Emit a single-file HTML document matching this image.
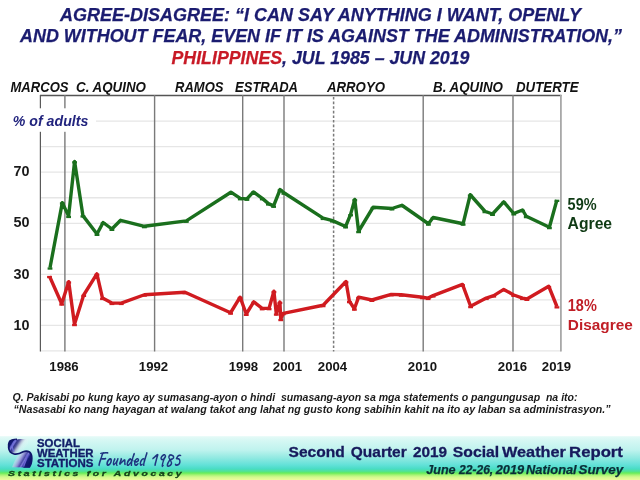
<!DOCTYPE html>
<html><head><meta charset="utf-8">
<style>
html,body{margin:0;padding:0;background:#fff;}
body{width:640px;height:480px;overflow:hidden;position:relative;}
svg{position:absolute;left:0;top:0;}
text{font-family:"Liberation Sans",Arial,sans-serif;}
</style></head>
<body>
<svg width="640" height="480" viewBox="0 0 640 480">
<defs>
<linearGradient id="band" gradientUnits="userSpaceOnUse" x1="0" y1="430" x2="0" y2="480">
<stop offset="0" stop-color="#ffffff"/>
<stop offset="0.11" stop-color="#ffffff"/>
<stop offset="0.135" stop-color="#e4faf7"/>
<stop offset="0.22" stop-color="#d4f7f3"/>
<stop offset="0.4" stop-color="#bff3ee"/>
<stop offset="0.56" stop-color="#90e9e1"/>
<stop offset="0.7" stop-color="#62e1d8"/>
<stop offset="0.78" stop-color="#48dcc4"/>
<stop offset="0.83" stop-color="#52e48e"/>
<stop offset="0.86" stop-color="#66ec5a"/>
<stop offset="0.9" stop-color="#a8f474"/>
<stop offset="0.94" stop-color="#d2f88e"/>
<stop offset="1" stop-color="#eefb9c"/>
</linearGradient>
</defs>
<!-- bottom band -->
<rect x="0" y="430" width="640" height="50" fill="url(#band)"/>

<!-- title -->
<g font-weight="bold" font-style="italic" fill="#1b1c70" font-size="17.5" stroke="#1b1c70" stroke-width="0.25">
<text x="60" y="20.6" textLength="521" lengthAdjust="spacingAndGlyphs">AGREE-DISAGREE: “I CAN SAY ANYTHING I WANT, OPENLY</text>
<text x="20" y="42" textLength="602" lengthAdjust="spacingAndGlyphs">AND WITHOUT FEAR, EVEN IF IT IS AGAINST THE ADMINISTRATION,”</text>
<text x="171.5" y="63.5" textLength="298" lengthAdjust="spacingAndGlyphs"><tspan fill="#c81a26" stroke="#c81a26">PHILIPPINES</tspan>, JUL 1985 – JUN 2019</text>
</g>

<!-- president labels -->
<g font-weight="bold" font-style="italic" fill="#111" font-size="14.4">
<text x="10.5" y="91.6" lengthAdjust="spacingAndGlyphs" textLength="58">MARCOS</text>
<text x="76" y="91.6" lengthAdjust="spacingAndGlyphs" textLength="70">C. AQUINO</text>
<text x="175" y="91.6" lengthAdjust="spacingAndGlyphs" textLength="48.5">RAMOS</text>
<text x="235" y="91.6" lengthAdjust="spacingAndGlyphs" textLength="63">ESTRADA</text>
<text x="327" y="91.6" lengthAdjust="spacingAndGlyphs" textLength="58">ARROYO</text>
<text x="433" y="91.6" lengthAdjust="spacingAndGlyphs" textLength="70">B. AQUINO</text>
<text x="516" y="91.6" lengthAdjust="spacingAndGlyphs" textLength="62.5">DUTERTE</text>
</g>

<!-- gridlines -->
<g stroke="#e6e6e6" stroke-width="1.3">
<line x1="40" y1="350.9" x2="561" y2="350.9"/>
<line x1="40" y1="325.4" x2="561" y2="325.4"/>
<line x1="40" y1="299.85" x2="561" y2="299.85"/>
<line x1="40" y1="274.3" x2="561" y2="274.3"/>
<line x1="40" y1="248.8" x2="561" y2="248.8"/>
<line x1="40" y1="223.3" x2="561" y2="223.3"/>
<line x1="40" y1="197.75" x2="561" y2="197.75"/>
<line x1="40" y1="172.2" x2="561" y2="172.2"/>
<line x1="40" y1="146.7" x2="561" y2="146.7"/>
<line x1="40" y1="121.2" x2="561" y2="121.2"/>
</g>

<!-- frame & president lines -->
<g stroke="#7a7a7a" stroke-width="1.4" fill="none">
<line x1="40" y1="95.5" x2="561.5" y2="95.5" stroke="#555"/>
<line x1="40.4" y1="95" x2="40.4" y2="351.5" stroke="#5a5a5a" stroke-width="1.2"/>
<line x1="64.9" y1="95" x2="64.9" y2="351.5"/>
<line x1="154.6" y1="95" x2="154.6" y2="351.5"/>
<line x1="242.7" y1="95" x2="242.7" y2="351.5"/>
<line x1="284" y1="95" x2="284" y2="351.5"/>
<line x1="423.2" y1="95" x2="423.2" y2="351.5"/>
<line x1="513" y1="95" x2="513" y2="351.5"/>
<line x1="560.9" y1="95" x2="560.9" y2="351.5" stroke="#a8a8a8" stroke-width="1.8"/>
<line x1="333.6" y1="97" x2="333.6" y2="351.5" stroke-dasharray="2.6 2" stroke-width="1.5"/>
</g>

<!-- % of adults label -->
<rect x="8" y="108.3" width="88" height="23.5" fill="#fff"/>
<text x="12.8" y="125.6" font-weight="bold" font-style="italic" font-size="14" fill="#22247e" textLength="75.5" lengthAdjust="spacingAndGlyphs">% of adults</text>

<!-- y axis labels -->
<g font-weight="bold" font-size="14.4" fill="#1a1a1a" text-anchor="middle">
<text x="21.5" y="175.6">70</text>
<text x="21.5" y="227.4">50</text>
<text x="21.5" y="278.9">30</text>
<text x="21.5" y="329.9">10</text>
</g>

<!-- x axis labels -->
<g font-weight="bold" font-size="13.2" fill="#151515" text-anchor="middle">
<text x="64" y="371.2">1986</text>
<text x="153.5" y="371.2">1992</text>
<text x="243.4" y="371.2">1998</text>
<text x="287.5" y="371.2">2001</text>
<text x="332.5" y="371.2">2004</text>
<text x="422.5" y="371.2">2010</text>
<text x="512.5" y="371.2">2016</text>
<text x="556.5" y="371.2">2019</text>
</g>

<!-- data -->
<polyline fill="none" stroke="#1a6f1d" stroke-width="3.4" stroke-linejoin="round"
points="50,267.7 62.3,202.6 68.6,216.1 74.6,161.5 82.9,215.6 97,234 103.1,222.5 111.9,229 120.6,220.3 144.4,226.3 186.3,220.9 230.9,192.2 240.3,198.4 246.9,198.9 253.4,191.9 262.3,198.4 268.4,203.6 273.6,205.9 280.1,189.5 283.9,192.8 323.1,218.1 332.5,220.6 345.6,226.5 350.6,214.4 354.75,199.4 358.6,231.25 373.1,207.25 391.9,208.5 401.9,205.25 428.4,223.75 433.1,217.5 463.1,223.75 470.25,194.75 484.9,211.25 492.5,214 503.75,201.9 513.75,213.5 522.5,210 526.25,216.25 549.4,227.25 556.9,200"/>
<polyline fill="none" stroke="#d01b20" stroke-width="3.4" stroke-linejoin="round"
points="49.5,276.2 61.7,303.7 68.7,281.7 74.5,324.2 83.7,295 96.9,273.9 102.5,298.1 111.9,303.1 121.25,303.1 144.4,294.75 185,292.25 230.6,312.75 240.1,297.2 246.25,314 253.75,301.9 262.2,308.4 269.1,308.3 273.9,291.25 276.3,313.75 279.9,302.1 280.75,319.2 283.25,313.3 323.1,305.25 346,281.5 349.4,301.25 354.4,308.75 358.6,297.1 371.9,300 391.25,294.4 401.25,294.75 422.5,297.25 428.1,298.1 433.1,295.6 462.5,284.4 470.6,306.25 486.25,298.1 493.75,295.6 503.75,289.4 513.75,295 522.5,298.1 526.9,299 548.75,286.25 556.9,306.5"/>

<!-- markers -->
<g fill="#1a6f1d"><rect x="47.60" y="267.40" width="4.8" height="2.3"/><rect x="59.90" y="202.30" width="4.8" height="2.3"/><rect x="66.20" y="215.80" width="4.8" height="2.3"/><rect x="72.20" y="161.20" width="4.8" height="2.3"/><rect x="80.50" y="215.30" width="4.8" height="2.3"/><rect x="94.60" y="233.70" width="4.8" height="2.3"/><rect x="100.70" y="222.20" width="4.8" height="2.3"/><rect x="109.50" y="228.70" width="4.8" height="2.3"/><rect x="118.20" y="220.00" width="4.8" height="2.3"/><rect x="142.00" y="226.00" width="4.8" height="2.3"/><rect x="183.90" y="220.60" width="4.8" height="2.3"/><rect x="228.50" y="191.90" width="4.8" height="2.3"/><rect x="237.90" y="198.10" width="4.8" height="2.3"/><rect x="244.50" y="198.60" width="4.8" height="2.3"/><rect x="251.00" y="191.60" width="4.8" height="2.3"/><rect x="259.90" y="198.10" width="4.8" height="2.3"/><rect x="266.00" y="203.30" width="4.8" height="2.3"/><rect x="271.20" y="205.60" width="4.8" height="2.3"/><rect x="277.70" y="189.20" width="4.8" height="2.3"/><rect x="281.50" y="192.50" width="4.8" height="2.3"/><rect x="320.70" y="217.80" width="4.8" height="2.3"/><rect x="330.10" y="220.30" width="4.8" height="2.3"/><rect x="343.20" y="226.20" width="4.8" height="2.3"/><rect x="348.20" y="214.10" width="4.8" height="2.3"/><rect x="352.35" y="199.10" width="4.8" height="2.3"/><rect x="356.20" y="230.95" width="4.8" height="2.3"/><rect x="370.70" y="206.95" width="4.8" height="2.3"/><rect x="389.50" y="208.20" width="4.8" height="2.3"/><rect x="399.50" y="204.95" width="4.8" height="2.3"/><rect x="426.00" y="223.45" width="4.8" height="2.3"/><rect x="430.70" y="217.20" width="4.8" height="2.3"/><rect x="460.70" y="223.45" width="4.8" height="2.3"/><rect x="467.85" y="194.45" width="4.8" height="2.3"/><rect x="482.50" y="210.95" width="4.8" height="2.3"/><rect x="490.10" y="213.70" width="4.8" height="2.3"/><rect x="501.35" y="201.60" width="4.8" height="2.3"/><rect x="511.35" y="213.20" width="4.8" height="2.3"/><rect x="520.10" y="209.70" width="4.8" height="2.3"/><rect x="523.85" y="215.95" width="4.8" height="2.3"/><rect x="547.00" y="226.95" width="4.8" height="2.3"/><rect x="554.50" y="199.70" width="4.8" height="2.3"/></g>
<g fill="#d01b20"><rect x="47.10" y="275.90" width="4.8" height="2.3"/><rect x="59.30" y="303.40" width="4.8" height="2.3"/><rect x="66.30" y="281.40" width="4.8" height="2.3"/><rect x="72.10" y="323.90" width="4.8" height="2.3"/><rect x="81.30" y="294.70" width="4.8" height="2.3"/><rect x="94.50" y="273.60" width="4.8" height="2.3"/><rect x="100.10" y="297.80" width="4.8" height="2.3"/><rect x="109.50" y="302.80" width="4.8" height="2.3"/><rect x="118.85" y="302.80" width="4.8" height="2.3"/><rect x="142.00" y="294.45" width="4.8" height="2.3"/><rect x="182.60" y="291.95" width="4.8" height="2.3"/><rect x="228.20" y="312.45" width="4.8" height="2.3"/><rect x="237.70" y="296.90" width="4.8" height="2.3"/><rect x="243.85" y="313.70" width="4.8" height="2.3"/><rect x="251.35" y="301.60" width="4.8" height="2.3"/><rect x="259.80" y="308.10" width="4.8" height="2.3"/><rect x="266.70" y="308.00" width="4.8" height="2.3"/><rect x="271.50" y="290.95" width="4.8" height="2.3"/><rect x="273.90" y="313.45" width="4.8" height="2.3"/><rect x="277.50" y="301.80" width="4.8" height="2.3"/><rect x="278.35" y="318.90" width="4.8" height="2.3"/><rect x="280.85" y="313.00" width="4.8" height="2.3"/><rect x="320.70" y="304.95" width="4.8" height="2.3"/><rect x="343.60" y="281.20" width="4.8" height="2.3"/><rect x="347.00" y="300.95" width="4.8" height="2.3"/><rect x="352.00" y="308.45" width="4.8" height="2.3"/><rect x="356.20" y="296.80" width="4.8" height="2.3"/><rect x="369.50" y="299.70" width="4.8" height="2.3"/><rect x="388.85" y="294.10" width="4.8" height="2.3"/><rect x="398.85" y="294.45" width="4.8" height="2.3"/><rect x="420.10" y="296.95" width="4.8" height="2.3"/><rect x="425.70" y="297.80" width="4.8" height="2.3"/><rect x="430.70" y="295.30" width="4.8" height="2.3"/><rect x="460.10" y="284.10" width="4.8" height="2.3"/><rect x="468.20" y="305.95" width="4.8" height="2.3"/><rect x="483.85" y="297.80" width="4.8" height="2.3"/><rect x="491.35" y="295.30" width="4.8" height="2.3"/><rect x="501.35" y="289.10" width="4.8" height="2.3"/><rect x="511.35" y="294.70" width="4.8" height="2.3"/><rect x="520.10" y="297.80" width="4.8" height="2.3"/><rect x="524.50" y="298.70" width="4.8" height="2.3"/><rect x="546.35" y="285.95" width="4.8" height="2.3"/><rect x="554.50" y="306.20" width="4.8" height="2.3"/></g>

<!-- right labels -->
<g font-weight="bold" font-size="15.6" stroke-width="0.2">
<text x="567.6" y="209.8" fill="#0f3a14" textLength="29" lengthAdjust="spacingAndGlyphs">59%</text>
<text x="567.6" y="228.8" fill="#0f3a14" textLength="44.5" lengthAdjust="spacingAndGlyphs">Agree</text>
<text x="567.8" y="310.6" fill="#c01e26" textLength="29" lengthAdjust="spacingAndGlyphs">18%</text>
<text x="567.8" y="329.8" fill="#c01e26" font-size="15.2" textLength="65" lengthAdjust="spacingAndGlyphs">Disagree</text>
</g>

<!-- question -->
<g font-weight="bold" font-style="italic" font-size="11" fill="#1a1a1a">
<text x="12.5" y="401.3" style="white-space:pre" textLength="565" lengthAdjust="spacingAndGlyphs">Q. Pakisabi po kung kayo ay sumasang-ayon o hindi  sumasang-ayon sa mga statements o pangungusap  na ito:</text>
<text x="13.5" y="413" textLength="597" lengthAdjust="spacingAndGlyphs">“Nasasabi ko nang hayagan at walang takot ang lahat ng gusto kong sabihin kahit na ito ay laban sa administrasyon.”</text>
</g>

<!-- report title -->
<g font-weight="bold" font-size="15" fill="#161a5c" stroke="#161a5c" stroke-width="0.3">
<text x="288.5" y="457.4" textLength="56.2" lengthAdjust="spacingAndGlyphs">Second</text>
<text x="350.8" y="457.4" textLength="55.9" lengthAdjust="spacingAndGlyphs">Quarter</text>
<text x="413.0" y="457.4" textLength="34.1" lengthAdjust="spacingAndGlyphs">2019</text>
<text x="452.8" y="457.4" textLength="46.4" lengthAdjust="spacingAndGlyphs">Social</text>
<text x="502.0" y="457.4" textLength="63.9" lengthAdjust="spacingAndGlyphs">Weather</text>
<text x="569.1" y="457.4" textLength="53.8" lengthAdjust="spacingAndGlyphs">Report</text>
</g>
<g font-weight="bold" font-style="italic" font-size="12" fill="#0a2e38" stroke="#0a2e38" stroke-width="0.25">
<text x="426.3" y="473.6" textLength="29.3" lengthAdjust="spacingAndGlyphs">June</text>
<text x="459.0" y="473.6" textLength="34.2" lengthAdjust="spacingAndGlyphs">22-26,</text>
<text x="495.7" y="473.6" textLength="28.4" lengthAdjust="spacingAndGlyphs">2019</text>
<text x="526.1" y="473.6" textLength="50.6" lengthAdjust="spacingAndGlyphs">National</text>
<text x="578.5" y="473.6" textLength="44.6" lengthAdjust="spacingAndGlyphs">Survey</text>
</g>

<!-- logo -->
<g font-weight="bold" fill="#13206a" font-size="10" stroke="#13206a" stroke-width="0.3">
<text x="37" y="447" textLength="43" lengthAdjust="spacingAndGlyphs">SOCIAL</text>
<text x="37" y="456.9" textLength="56.5" lengthAdjust="spacingAndGlyphs">WEATHER</text>
<text x="37" y="467.3" textLength="56.5" lengthAdjust="spacingAndGlyphs">STATIONS</text>
</g>
<text x="97" y="465.5" style="font-family:'Caveat','Liberation Serif',serif;font-style:normal;font-weight:700" font-size="21" fill="#1f3580" textLength="83" lengthAdjust="spacingAndGlyphs">Founded 1985</text>
<text transform="scale(1.3,1)" x="6.2" y="476.5" font-weight="bold" font-style="italic" font-size="8" fill="#16441a" stroke="#16441a" stroke-width="0.3" textLength="133.5" lengthAdjust="spacing">Statistics for Advocacy</text>
<defs>
<linearGradient id="lgTop" gradientUnits="userSpaceOnUse" x1="8.5" y1="441" x2="24" y2="451">
<stop offset="0" stop-color="#10166a"/>
<stop offset="0.2" stop-color="#141a76"/>
<stop offset="0.26" stop-color="#5a5cc8"/>
<stop offset="0.32" stop-color="#7c7cda"/>
<stop offset="0.4" stop-color="#34378e"/>
<stop offset="0.48" stop-color="#50539a"/>
<stop offset="0.6" stop-color="#a6aacc" stop-opacity="0.85"/>
<stop offset="0.75" stop-color="#e2e8f2" stop-opacity="0.35"/>
<stop offset="1" stop-color="#ffffff" stop-opacity="0"/>
</linearGradient>
<linearGradient id="lgBot" gradientUnits="userSpaceOnUse" x1="31.5" y1="459" x2="16" y2="450">
<stop offset="0" stop-color="#10166a"/>
<stop offset="0.16" stop-color="#161c78"/>
<stop offset="0.24" stop-color="#5050c0"/>
<stop offset="0.3" stop-color="#7e7ad6"/>
<stop offset="0.38" stop-color="#4a4aa8"/>
<stop offset="0.5" stop-color="#8e8cd2"/>
<stop offset="0.68" stop-color="#c8c8ec" stop-opacity="0.6"/>
<stop offset="1" stop-color="#ffffff" stop-opacity="0"/>
</linearGradient>
</defs>
<path d="M10,440.2 C12.5,439.4 17,439.2 28,438.8 L28,451 C24,451.2 21,453.8 17.5,454.2 C12,454.6 8.3,451.5 8.3,446.5 C8.3,443.5 8.8,441.2 10,440.2 Z" fill="url(#lgTop)"/>
<path d="M27.3,451.2 C30,451.1 31.8,453.5 31.8,458.2 C31.8,462 31,465.5 29.1,467.6 L12,467.3 C14,462 17,455 21.5,452.3 Z" fill="url(#lgBot)"/>
<path d="M17,439.4 C13,439.5 10.8,440 9.6,441.5 C8.6,443 8.5,446 8.7,448 C9,451 11,453.3 14,454 C16.5,454.5 19.5,454 23.2,451.8 C25,451 27.5,450.9 29.5,452 C31.2,453.2 31.8,455.5 31.8,458.2 C31.8,461.5 31.2,464.5 29.1,467.4" fill="none" stroke="#10166a" stroke-width="1.7"/>
<path d="M15.8,440 C13.5,442 12.3,444.5 12.4,447 C12.5,449 13,450.5 14,451.5" fill="none" stroke="#6e6ed6" stroke-width="1.2"/>
<path d="M27.3,454.5 C26.6,458 25.6,462 23.6,466.8" fill="none" stroke="#6a62d0" stroke-width="1.3"/>
<path d="M23.5,467.3 L29.3,467.3" stroke="#1a1f78" stroke-width="1"/>
</svg>
</body></html>
